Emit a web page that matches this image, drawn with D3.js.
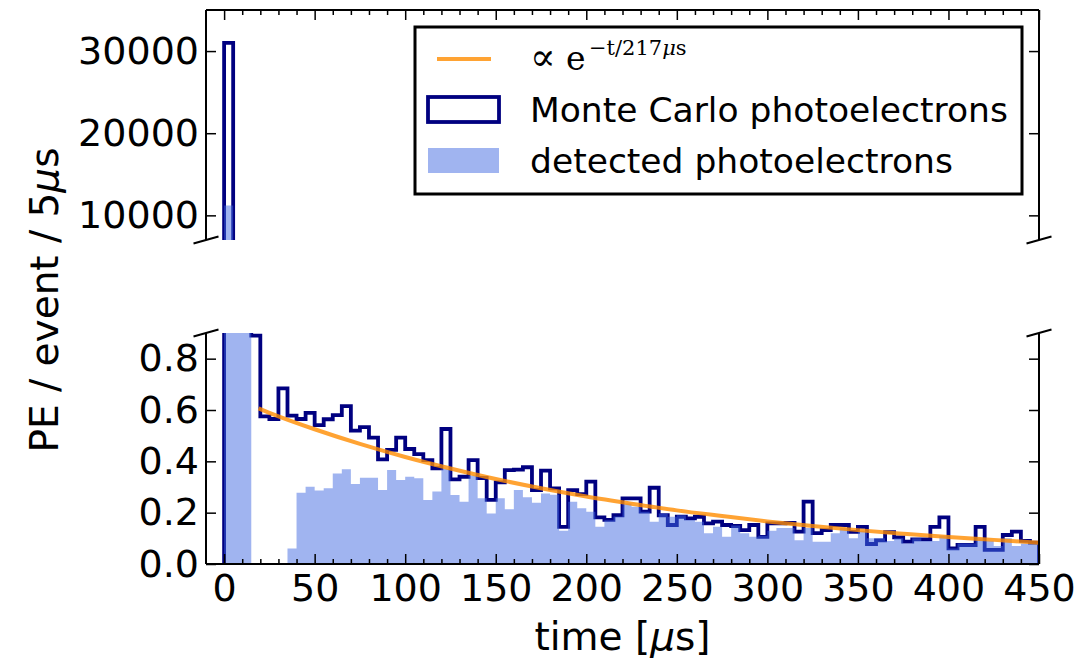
<!DOCTYPE html>
<meta charset="utf-8">
<style>
  body { margin: 0; background: #fff; }
  svg text { font-family: "DejaVu Sans", sans-serif; }
</style>
<body>
<script src="https://cdn.jsdelivr.net/npm/d3@7"></script>
<script>
// histogram bins are 5 us wide, starting at t = 0
var binWidth = 5;

// Monte Carlo photoelectrons per bin (first bins go far above the lower panel)
var mcCounts = [31000, 4.5, 1.5, 0.89, 0.575, 0.565, 0.684, 0.578, 0.565, 0.589,
  0.541, 0.564, 0.580, 0.615, 0.520, 0.533, 0.492, 0.408, 0.445, 0.492,
  0.448, 0.428, 0.405, 0.373, 0.526, 0.330, 0.340, 0.405, 0.335, 0.250,
  0.318, 0.366, 0.368, 0.377, 0.288, 0.364, 0.295, 0.145, 0.288, 0.272,
  0.321, 0.182, 0.172, 0.190, 0.256, 0.256, 0.204, 0.297, 0.190, 0.152,
  0.184, 0.178, 0.184, 0.158, 0.165, 0.152, 0.148, 0.132, 0.152, 0.106,
  0.158, 0.158, 0.160, 0.126, 0.243, 0.120, 0.132, 0.152, 0.152, 0.125,
  0.145, 0.078, 0.092, 0.124, 0.104, 0.087, 0.096, 0.096, 0.145, 0.182,
  0.061, 0.074, 0.074, 0.145, 0.055, 0.055, 0.113, 0.126, 0.090, 0.083];

// detected photoelectrons per bin
var detectedCounts = [11200, 3.0, 1.2, 0, 0, 0, 0, 0.06, 0.278, 0.301,
  0.286, 0.295, 0.353, 0.369, 0.312, 0.336, 0.336, 0.288, 0.366, 0.327,
  0.340, 0.334, 0.249, 0.282, 0.370, 0.269, 0.243, 0.345, 0.256, 0.197,
  0.256, 0.213, 0.288, 0.260, 0.239, 0.275, 0.270, 0.130, 0.243, 0.217,
  0.204, 0.145, 0.170, 0.185, 0.236, 0.223, 0.204, 0.165, 0.197, 0.184,
  0.190, 0.171, 0.165, 0.120, 0.145, 0.106, 0.150, 0.120, 0.106, 0.110,
  0.130, 0.140, 0.140, 0.093, 0.140, 0.087, 0.087, 0.120, 0.140, 0.100,
  0.130, 0.100, 0.100, 0.090, 0.100, 0.080, 0.100, 0.090, 0.090, 0.110,
  0.060, 0.080, 0.080, 0.100, 0.090, 0.070, 0.100, 0.070, 0.080, 0.080];

// exponential fit
var fitTimes = [19, 25, 50, 75, 100, 125, 150, 175, 200, 225, 250, 275, 300, 325, 350, 375, 400, 425, 450];
var fitValues = [0.606, 0.589, 0.525, 0.468, 0.417, 0.372, 0.331, 0.295, 0.263, 0.235, 0.209, 0.187, 0.166, 0.148, 0.132, 0.118, 0.105, 0.094, 0.083];

var xTicks = [0, 50, 100, 150, 200, 250, 300, 350, 400, 450];
var xMinorTicks = [10, 20, 30, 40, 60, 70, 80, 90, 110, 120, 130, 140, 160, 170, 180, 190,
  210, 220, 230, 240, 260, 270, 280, 290, 310, 320, 330, 340, 360, 370, 380, 390, 410, 420, 430, 440];
var lowTicks = [0.0, 0.2, 0.4, 0.6, 0.8];
var highTicks = [10000, 20000, 30000];

var W = 1084, H = 663;
var left = 206, right = 1039;
var top1 = 10, bot1 = 240;     // upper panel
var top2 = 333, bot2 = 564;    // lower panel

var svg = d3.select("body").append("svg")
  .attr("width", W).attr("height", H);

var x = d3.scaleLinear().domain([-10, 450]).range([left, right]);
var yHigh = d3.scaleLinear().domain([7000, 35000]).range([bot1, top1]);
var yLow = d3.scaleLinear().domain([0, 0.9]).range([bot2, top2]);

function stepPoints(counts) {
  var pts = [[0, 0]];
  counts.forEach(function(v, i) {
    pts.push([i * binWidth, v]);
    pts.push([(i + 1) * binWidth, v]);
  });
  pts.push([counts.length * binWidth, 0]);
  return pts;
}

function drawPanel(name, y, t, b) {
  svg.append("clipPath").attr("id", "clip-" + name)
    .append("rect").attr("x", left).attr("y", t)
    .attr("width", right - left).attr("height", b - t);

  var g = svg.append("g").attr("clip-path", "url(#clip-" + name + ")");

  // Monte Carlo step outline
  g.append("path")
    .datum(stepPoints(mcCounts))
    .attr("d", d3.line().x(function(d) { return x(d[0]); }).y(function(d) { return y(d[1]); }))
    .attr("fill", "none")
    .attr("stroke", "#000080")
    .attr("stroke-width", 3.8);

  // detected, filled with alpha on top
  g.append("path")
    .datum(stepPoints(detectedCounts))
    .attr("d", d3.area().x(function(d) { return x(d[0]); })
      .y0(y(0)).y1(function(d) { return y(d[1]); }))
    .attr("fill", "#4169e1")
    .attr("fill-opacity", 0.5);

  // fit curve
  g.append("path")
    .datum(fitTimes.map(function(t, i) { return [t, fitValues[i]]; }))
    .attr("d", d3.line().curve(d3.curveMonotoneX)
      .x(function(d) { return x(d[0]); }).y(function(d) { return y(d[1]); }))
    .attr("fill", "none")
    .attr("stroke", "#ff8c00")
    .attr("stroke-opacity", 0.8)
    .attr("stroke-width", 4);
}

drawPanel("high", yHigh, top1, bot1);
drawPanel("low", yLow, top2, bot2);

// axes
var tickFont = "38px";
function styleAxis(sel) {
  sel.select(".domain").remove();
  sel.selectAll(".tick line").attr("stroke", "#000").attr("stroke-width", 1.5);
  sel.selectAll("text").style("font-size", tickFont).attr("fill", "#000");
}

svg.append("g").attr("transform", "translate(0," + bot2 + ")")
  .call(d3.axisBottom(x).tickValues(xTicks).tickSizeInner(-10).tickSizeOuter(0).tickPadding(10))
  .call(styleAxis);
svg.append("g").attr("transform", "translate(0," + bot2 + ")")
  .call(d3.axisBottom(x).tickValues(xMinorTicks).tickSizeInner(-5).tickSizeOuter(0).tickFormat(""))
  .call(styleAxis);
svg.append("g").attr("transform", "translate(0," + top1 + ")")
  .call(d3.axisTop(x).tickValues(xTicks).tickSizeInner(-10).tickSizeOuter(0).tickFormat(""))
  .call(styleAxis);
svg.append("g").attr("transform", "translate(0," + top1 + ")")
  .call(d3.axisTop(x).tickValues(xMinorTicks).tickSizeInner(-5).tickSizeOuter(0).tickFormat(""))
  .call(styleAxis);

svg.append("g").attr("transform", "translate(" + left + ",0)")
  .call(d3.axisLeft(yLow).tickValues(lowTicks).tickSizeInner(-10).tickSizeOuter(0)
    .tickPadding(7).tickFormat(d3.format(".1f")))
  .call(styleAxis);
svg.append("g").attr("transform", "translate(" + right + ",0)")
  .call(d3.axisRight(yLow).tickValues(lowTicks).tickSizeInner(-10).tickSizeOuter(0).tickFormat(""))
  .call(styleAxis);
svg.append("g").attr("transform", "translate(" + left + ",0)")
  .call(d3.axisLeft(yHigh).tickValues(highTicks).tickSizeInner(-10).tickSizeOuter(0)
    .tickPadding(7).tickFormat(d3.format("d")))
  .call(styleAxis);
svg.append("g").attr("transform", "translate(" + right + ",0)")
  .call(d3.axisRight(yHigh).tickValues(highTicks).tickSizeInner(-10).tickSizeOuter(0).tickFormat(""))
  .call(styleAxis);

// spines (broken axis: no bottom spine on upper, no top spine on lower)
var spines = [
  [left, top1, left, bot1], [right, top1, right, bot1], [left, top1, right, top1],
  [left, top2, left, bot2], [right, top2, right, bot2], [left, bot2, right, bot2]
];
svg.selectAll(".spine").data(spines).enter().append("line")
  .attr("x1", function(d) { return d[0]; }).attr("y1", function(d) { return d[1]; })
  .attr("x2", function(d) { return d[2]; }).attr("y2", function(d) { return d[3]; })
  .attr("stroke", "#000").attr("stroke-width", 2);

// break marks
var dw = 0.015 * (right - left), dh = 0.015 * (bot2 - top2);
var breaks = [[left, bot1], [right, bot1], [left, top2], [right, top2]];
svg.selectAll(".brk").data(breaks).enter().append("line")
  .attr("x1", function(d) { return d[0] - dw; }).attr("y1", function(d) { return d[1] + dh; })
  .attr("x2", function(d) { return d[0] + dw; }).attr("y2", function(d) { return d[1] - dh; })
  .attr("stroke", "#000").attr("stroke-width", 2);

// axis labels
var xl = svg.append("text").attr("x", (left + right) / 2).attr("y", 650)
  .attr("text-anchor", "middle").style("font-size", "39px");
xl.append("tspan").text("time [");
xl.append("tspan").style("font-style", "italic").text("μ");
xl.append("tspan").text("s]");

var yl = svg.append("text")
  .attr("transform", "translate(58,300) rotate(-90)")
  .attr("text-anchor", "middle").style("font-size", "39px");
yl.append("tspan").text("PE / event / 5");
yl.append("tspan").style("font-style", "italic").text("μ");
yl.append("tspan").text("s");

// legend
var lg = svg.append("g");
lg.append("rect").attr("x", 415).attr("y", 27).attr("width", 607).attr("height", 167)
  .attr("fill", "#fff").attr("stroke", "#000").attr("stroke-width", 3);
lg.append("line").attr("x1", 437).attr("x2", 491).attr("y1", 59).attr("y2", 59)
  .attr("stroke", "#ff8c00").attr("stroke-opacity", 0.8).attr("stroke-width", 4);
var ft = lg.append("text").attr("y", 70)
  .style("font-family", "'DejaVu Serif', serif").style("font-size", "33px");
ft.append("tspan").attr("x", 530).style("font-size", "38px").text("∝");
ft.append("tspan").attr("x", 566).text("e");
ft.append("tspan").attr("x", 589).attr("dy", -15).style("font-size", "21px").text("−t/217");
ft.append("tspan").style("font-size", "21px").style("font-style", "italic").text("μ");
ft.append("tspan").style("font-size", "21px").text("s");

lg.append("rect").attr("x", 428).attr("y", 97).attr("width", 71).attr("height", 25)
  .attr("fill", "none").attr("stroke", "#000080").attr("stroke-width", 3.8);
lg.append("text").attr("x", 530).attr("y", 122).style("font-size", "34.5px")
  .text("Monte Carlo photoelectrons");
lg.append("rect").attr("x", 428).attr("y", 148).attr("width", 71).attr("height", 25)
  .attr("fill", "#4169e1").attr("fill-opacity", 0.5);
lg.append("text").attr("x", 530).attr("y", 173).style("font-size", "34.5px")
  .text("detected photoelectrons");
</script>
</body>
